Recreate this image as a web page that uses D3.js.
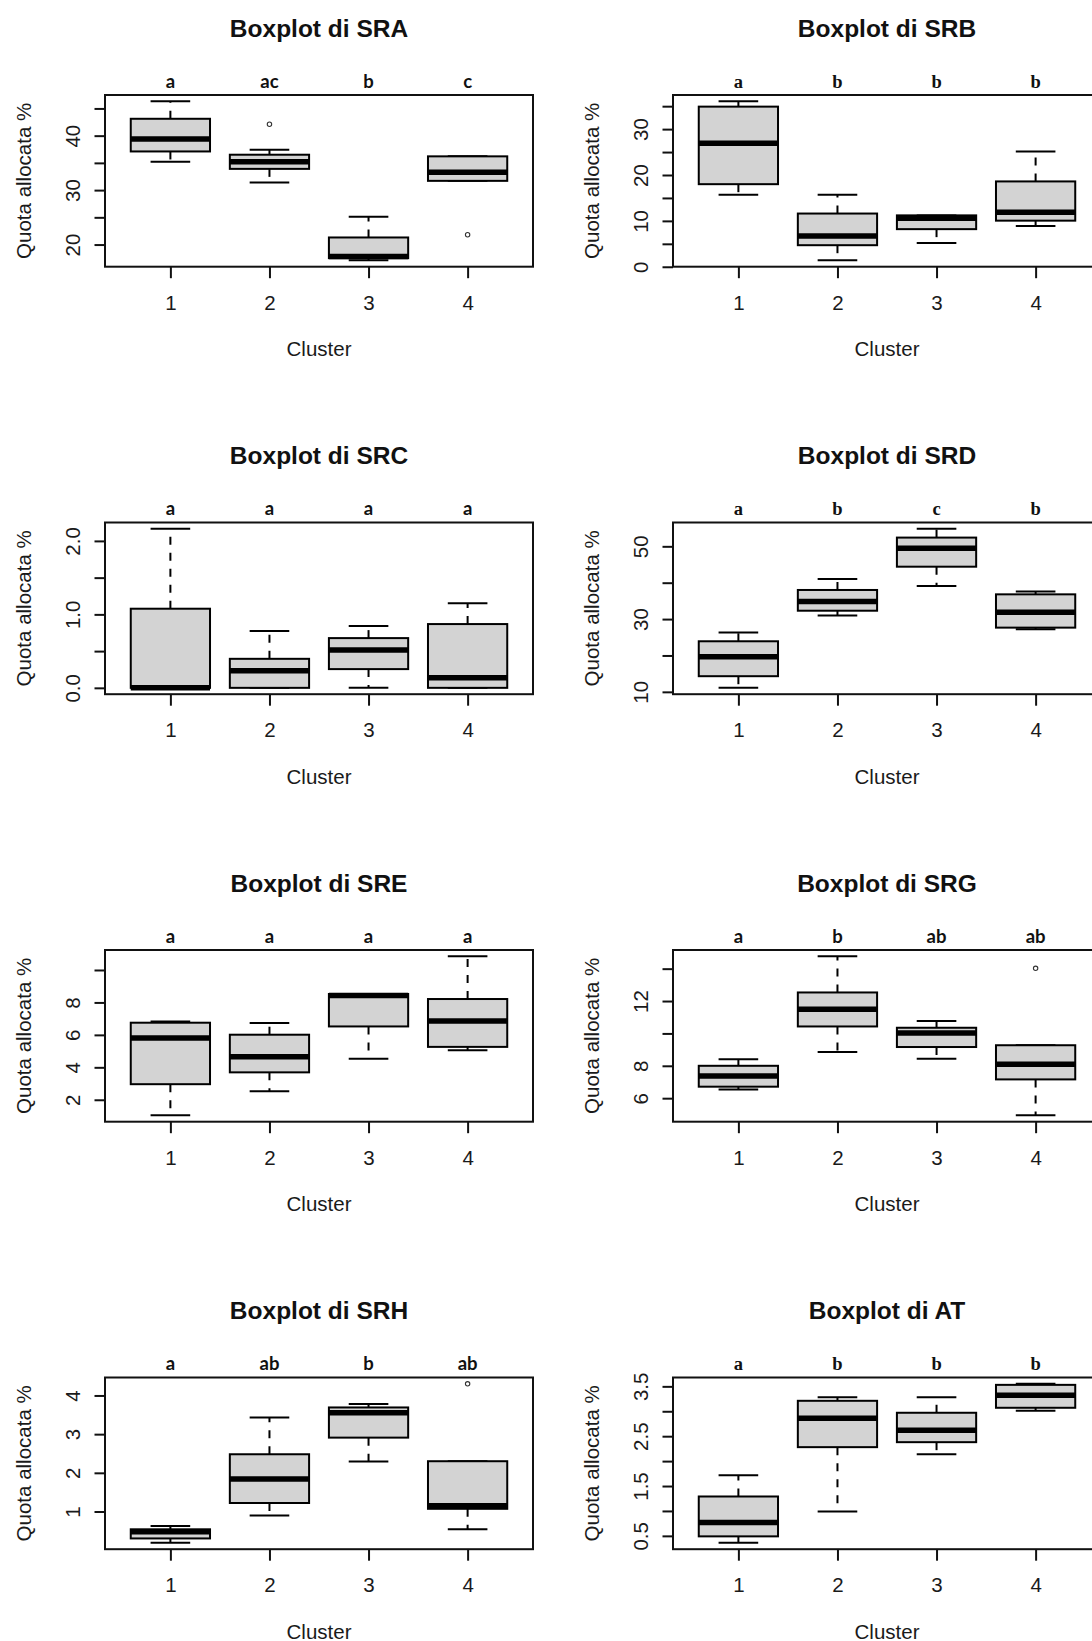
<!DOCTYPE html>
<html><head><meta charset="utf-8">
<script src="https://cdn.jsdelivr.net/npm/d3@7"></script>
<style>body{margin:0;background:#fff}svg{display:block;background:#fff}</style>
</head><body><svg id="c" width="1092" height="1641"></svg>
<script>
// ---------- DATA ----------
const clusters = ["1", "2", "3", "4"];
const variables = ["SRA", "SRB", "SRC", "SRD", "SRE", "SRG", "SRH", "AT"];
// each box: [lower whisker, Q1, median, Q3, upper whisker]
const statsSRA = [[35.2, 37.1, 39.4, 43.1, 46.3], [31.4, 33.9, 35.2, 36.5, 37.4], [17.1, 17.5, 17.8, 21.3, 25.1], [31.7, 31.7, 33.3, 36.2, 36.2]];
const outSRA = [[], [42.1], [], [21.8]];
const lettersSRA = ["a", "ac", "b", "c"];
const ticksSRA = [20, 25, 30, 35, 40, 45];
const labelsSRA = ["20", "", "30", "", "40", ""];

const statsSRB = [[15.7, 18.0, 26.9, 34.9, 36.05], [1.4, 4.7, 6.7, 11.6, 15.7], [5.2, 8.2, 10.6, 11.2, 11.2], [8.9, 10.05, 11.9, 18.6, 25.1]];
const outSRB = [[], [], [], []];
const lettersSRB = ["a", "b", "b", "b"];
const ticksSRB = [0, 5, 10, 15, 20, 25, 30, 35];
const labelsSRB = ["0", "", "10", "", "20", "", "30", ""];

const statsSRC = [[0, 0, 0, 1.077, 2.164], [0, 0, 0.232, 0.395, 0.773], [0, 0.255, 0.514, 0.677, 0.841], [0, 0, 0.136, 0.868, 1.15]];
const outSRC = [[], [], [], []];
const lettersSRC = ["a", "a", "a", "a"];
const ticksSRC = [0, 0.5, 1, 1.5, 2];
const labelsSRC = ["0.0", "", "1.0", "", "2.0"];

const statsSRD = [[11.1, 14.3, 19.65, 23.9, 26.3], [31.0, 32.3, 34.8, 38.0, 41.0], [39.1, 44.4, 49.5, 52.4, 54.8], [27.2, 27.65, 31.9, 36.8, 37.6]];
const outSRD = [[], [], [], []];
const lettersSRD = ["a", "b", "c", "b"];
const ticksSRD = [10, 20, 30, 40, 50];
const labelsSRD = ["10", "", "30", "", "50"];

const statsSRE = [[1.04, 2.96, 5.81, 6.75, 6.83], [2.53, 3.69, 4.65, 6.01, 6.73], [4.53, 6.52, 8.42, 8.52, 8.52], [5.05, 5.26, 6.85, 8.21, 10.84]];
const outSRE = [[], [], [], []];
const lettersSRE = ["a", "a", "a", "a"];
const ticksSRE = [2, 4, 6, 8, 10];
const labelsSRE = ["2", "4", "6", "8", ""];

const statsSRG = [[6.53, 6.71, 7.37, 8.0, 8.41], [8.86, 10.43, 11.49, 12.53, 14.76], [8.43, 9.16, 10.02, 10.35, 10.76], [4.94, 7.16, 8.10, 9.27, 9.27]];
const outSRG = [[], [], [], [14.02]];
const lettersSRG = ["a", "b", "ab", "ab"];
const ticksSRG = [6, 8, 10, 12, 14];
const labelsSRG = ["6", "8", "", "12", ""];

const statsSRH = [[0.19, 0.304, 0.478, 0.54, 0.626], [0.90, 1.22, 1.84, 2.48, 3.43], [2.29, 2.91, 3.55, 3.69, 3.78], [0.54, 1.07, 1.15, 2.30, 2.30]];
const outSRH = [[], [], [], [4.30]];
const lettersSRH = ["a", "ab", "b", "ab"];
const ticksSRH = [1, 2, 3, 4];
const labelsSRH = ["1", "2", "3", "4"];

const statsAT = [[0.36, 0.49, 0.77, 1.29, 1.716], [0.99, 2.28, 2.86, 3.21, 3.28], [2.14, 2.38, 2.62, 2.97, 3.28], [3.01, 3.07, 3.32, 3.53, 3.55]];
const outAT = [[], [], [], []];
const lettersAT = ["a", "b", "b", "b"];
const ticksAT = [0.5, 1, 1.5, 2, 2.5, 3, 3.5];
const labelsAT = ["0.5", "", "1.5", "", "2.5", "", "3.5"];

const xTitle = "Cluster";
const yTitle = "Quota allocata %";
const titlePrefix = "Boxplot di ";

// ---------- LAYOUT / STYLE ----------
const SANS = "'Liberation Sans', Arial, Helvetica, sans-serif";
const LETTER_SANS = "Lato, 'Open Sans', sans-serif";
const LETTER_SERIF = "'Liberation Serif', 'Times New Roman', serif";
const colLeft = [105, 673];
const rowTop = [95, 522.5, 950, 1377.5];
const PW = 428, PH = 171.7;
const LW = 2;

const panels = [
  {name: variables[0], stats: statsSRA, out: outSRA, letters: lettersSRA, ticks: ticksSRA, labels: labelsSRA, serif: false},
  {name: variables[1], stats: statsSRB, out: outSRB, letters: lettersSRB, ticks: ticksSRB, labels: labelsSRB, serif: true},
  {name: variables[2], stats: statsSRC, out: outSRC, letters: lettersSRC, ticks: ticksSRC, labels: labelsSRC, serif: false},
  {name: variables[3], stats: statsSRD, out: outSRD, letters: lettersSRD, ticks: ticksSRD, labels: labelsSRD, serif: true},
  {name: variables[4], stats: statsSRE, out: outSRE, letters: lettersSRE, ticks: ticksSRE, labels: labelsSRE, serif: false},
  {name: variables[5], stats: statsSRG, out: outSRG, letters: lettersSRG, ticks: ticksSRG, labels: labelsSRG, serif: false},
  {name: variables[6], stats: statsSRH, out: outSRH, letters: lettersSRH, ticks: ticksSRH, labels: labelsSRH, serif: false},
  {name: variables[7], stats: statsAT, out: outAT, letters: lettersAT, ticks: ticksAT, labels: labelsAT, serif: true}
];

const svg = d3.select("#c");

panels.forEach((p, i) => {
  const left = colLeft[i % 2], top = rowTop[Math.floor(i / 2)];
  const g = svg.append("g").attr("transform", `translate(${left},${top})`);
  const n = clusters.length;
  const xr = [0.5, n + 0.5], xp = (xr[1] - xr[0]) * 0.04;
  const x = d3.scaleLinear().domain([xr[0] - xp, xr[1] + xp]).range([0, PW]);
  const allv = p.stats.flat().concat(p.out.flat());
  const ext = d3.extent(allv), yp = (ext[1] - ext[0]) * 0.04;
  const y = d3.scaleLinear().domain([ext[0] - yp, ext[1] + yp]).range([PH, 0]);
  const hw = x(0.4) - x(0), sw = x(0.2) - x(0);

  const boxes = g.selectAll("g.bx").data(p.stats).join("g").attr("class", "bx");
  boxes.each(function (s, k) {
    const b = d3.select(this), cx = x(k + 1);
    // whiskers
    b.append("line").attr("x1", cx).attr("x2", cx).attr("y1", y(s[3])).attr("y2", y(s[4]))
      .attr("stroke", "#000").attr("stroke-width", LW).attr("stroke-dasharray", "8,8");
    b.append("line").attr("x1", cx).attr("x2", cx).attr("y1", y(s[1])).attr("y2", y(s[0]))
      .attr("stroke", "#000").attr("stroke-width", LW).attr("stroke-dasharray", "8,8");
    // staples
    [s[0], s[4]].forEach(v => b.append("line").attr("x1", cx - sw).attr("x2", cx + sw)
      .attr("y1", y(v)).attr("y2", y(v)).attr("stroke", "#000").attr("stroke-width", LW));
    // box
    b.append("rect").attr("x", cx - hw).attr("width", 2 * hw)
      .attr("y", y(s[3])).attr("height", Math.max(0, y(s[1]) - y(s[3])))
      .attr("fill", "#d3d3d3").attr("stroke", "#000").attr("stroke-width", LW);
    // median
    b.append("line").attr("x1", cx - hw).attr("x2", cx + hw).attr("y1", y(s[2])).attr("y2", y(s[2]))
      .attr("stroke", "#000").attr("stroke-width", 5.5);
    // outliers
    p.out[k].forEach(v => b.append("circle").attr("cx", cx).attr("cy", y(v)).attr("r", 2.2)
      .attr("fill", "none").attr("stroke", "#333").attr("stroke-width", 1.1));
  });

  // border
  g.append("rect").attr("x", 0).attr("y", 0).attr("width", PW).attr("height", PH)
    .attr("fill", "none").attr("stroke", "#111").attr("stroke-width", LW);

  // x axis
  const xa = g.append("g").attr("transform", `translate(0,${PH})`)
    .call(d3.axisBottom(x).tickValues(d3.range(1, n + 1)).tickFormat(d => clusters[d - 1]).tickSize(11.5).tickSizeOuter(0));
  xa.select(".domain").remove();
  xa.selectAll("line").attr("stroke", "#111").attr("stroke-width", LW);
  xa.selectAll("text").attr("dy", null).attr("y", 43.3)
    .style("font-family", SANS).style("font-size", "20.5px").attr("fill", "#1a1a1a");

  // y axis
  const ya = g.append("g")
    .call(d3.axisLeft(y).tickValues(p.ticks).tickFormat((d, j) => p.labels[j]).tickSize(10.5).tickSizeOuter(0));
  ya.select(".domain").remove();
  ya.selectAll("line").attr("stroke", "#111").attr("stroke-width", LW);
  ya.selectAll("text").attr("x", null).attr("dy", null)
    .attr("transform", "translate(-25.5,0) rotate(-90)").attr("text-anchor", "middle")
    .style("font-family", SANS).style("font-size", "20.5px").attr("fill", "#1a1a1a");

  // letters
  g.selectAll("text.lt").data(p.letters).join("text").attr("class", "lt")
    .attr("x", (d, k) => x(k + 1)).attr("y", -7.5).attr("text-anchor", "middle")
    .style("font-family", p.serif ? LETTER_SERIF : LETTER_SANS).style("font-weight", "bold")
    .style("font-size", "18.5px").attr("fill", "#111").text(d => d);

  // titles
  g.append("text").attr("x", PW / 2).attr("y", -58.5).attr("text-anchor", "middle")
    .style("font-family", SANS).style("font-weight", "bold").style("font-size", "24.5px")
    .attr("fill", "#111").text(titlePrefix + p.name);
  g.append("text").attr("x", PW / 2).attr("y", PH + 89.3).attr("text-anchor", "middle")
    .style("font-family", SANS).style("font-size", "20.5px").attr("fill", "#1a1a1a").text(xTitle);
  g.append("text").attr("transform", `translate(-74,${PH / 2}) rotate(-90)`).attr("text-anchor", "middle")
    .style("font-family", SANS).style("font-size", "20.5px").attr("fill", "#1a1a1a").text(yTitle);
});
</script></body></html>
